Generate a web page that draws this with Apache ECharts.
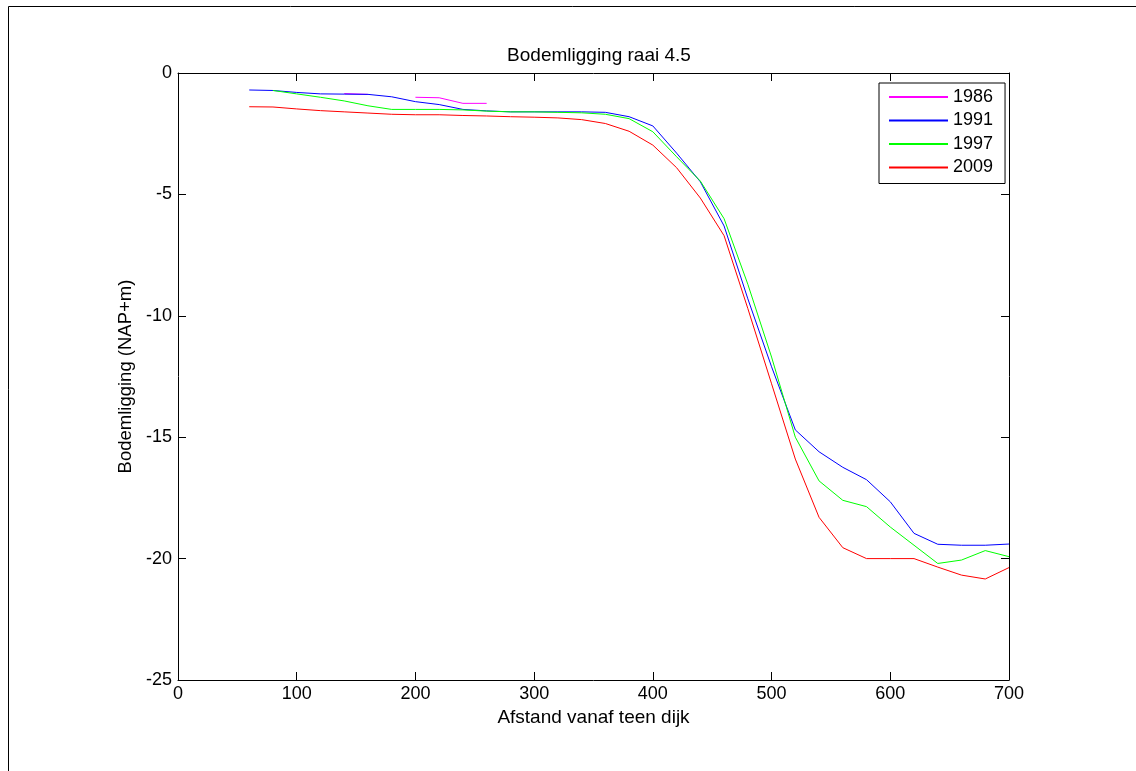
<!DOCTYPE html>
<html>
<head>
<meta charset="utf-8">
<script src="https://cdn.jsdelivr.net/npm/echarts@6/dist/echarts.min.js"></script>
<style>
  html, body { margin: 0; padding: 0; background: #fff; }
  #chart { width: 1136px; height: 771px; }
</style>
</head>
<body>
<div id="chart"></div>
<script>
// Distance from the dike toe (m), one sounding every 20 m
const afstand = [60, 80, 100, 120, 140, 160, 180, 200, 220, 240, 260, 280, 300, 320, 340, 360, 380,
  400, 420, 440, 460, 480, 500, 520, 540, 560, 580, 600, 620, 640, 660, 680, 700];

// Bed level (NAP+m) per survey year; null = not surveyed
const y1986 = [null, null, null, null, -0.85, -0.88, null, -1.0, -1.02, -1.25, -1.25, null, null, null, null, null, null,
  null, null, null, null, null, null, null, null, null, null, null, null, null, null, null, null];
const y1991 = [-0.7, -0.72, -0.8, -0.86, -0.87, -0.88, -0.98, -1.18, -1.3, -1.5, -1.56, -1.6, -1.6, -1.6, -1.6, -1.62, -1.8,
  -2.18, -3.3, -4.48, -6.3, -9.3, -12.1, -14.7, -15.6, -16.24, -16.75, -17.66, -18.96, -19.41, -19.45, -19.45, -19.4];
const y1997 = [null, -0.72, -0.86, -1.0, -1.15, -1.35, -1.5, -1.5, -1.5, -1.52, -1.57, -1.6, -1.6, -1.62, -1.64, -1.7, -1.88,
  -2.42, -3.45, -4.45, -6.0, -8.7, -11.7, -15.0, -16.8, -17.6, -17.86, -18.7, -19.45, -20.2, -20.06, -19.67, -19.92];
const y2009 = [-1.39, -1.4, -1.48, -1.55, -1.6, -1.65, -1.7, -1.72, -1.72, -1.75, -1.77, -1.8, -1.82, -1.85, -1.92, -2.08, -2.4,
  -2.97, -3.9, -5.15, -6.7, -9.7, -12.8, -15.9, -18.3, -19.55, -20.0, -20.0, -20.0, -20.35, -20.68, -20.84, -20.37];

const jaren = ['1986', '1991', '1997', '2009'];
const reeksen = [y1986, y1991, y1997, y2009];
const kleuren = ['#ff00ff', '#0000ff', '#00ff00', '#ff0000'];

const FONT = 'Liberation Sans, Arial, Helvetica, sans-serif';
const chart = echarts.init(document.getElementById('chart'), null, { renderer: 'canvas' });

const boxAxis = {
  axisLine: { show: true, onZero: false, lineStyle: { color: '#000', width: 1 } },
  axisTick: { show: true, inside: true, length: 8, lineStyle: { color: '#000', width: 1 } },
  splitLine: { show: false }
};

chart.setOption({
  animation: false,
  backgroundColor: '#fff',
  title: {
    text: 'Bodemligging raai 4.5',
    left: 594, top: 41, textAlign: 'center',
    textStyle: { fontFamily: FONT, fontSize: 19, fontWeight: 'normal', color: '#000' }
  },
  grid: { left: 178, top: 73, width: 831, height: 607, containLabel: false },
  legend: {
    data: jaren.map((j, i) => ({ name: j, icon: 'rect', itemStyle: { color: kleuren[i], borderWidth: 0 } })),
    orient: 'vertical',
    left: 879, top: 83,
    padding: [5, 12, 7, 10],
    itemWidth: 59, itemHeight: 2, itemGap: 5.5,
    borderColor: '#000', borderWidth: 1, backgroundColor: '#fff',
    selectedMode: false,
    textStyle: { fontFamily: FONT, fontSize: 18, color: '#000', padding: [0, 0, 0, 0] }
  },
  xAxis: [
    Object.assign({
      type: 'value', position: 'bottom', min: 0, max: 700, interval: 100,
      name: 'Afstand vanaf teen dijk', nameLocation: 'middle', nameGap: 27,
      nameTextStyle: { fontFamily: FONT, fontSize: 19, color: '#000' },
      axisLabel: { fontFamily: FONT, fontSize: 18, color: '#000', margin: 5 }
    }, boxAxis),
    Object.assign({
      type: 'value', position: 'top', min: 0, max: 700, interval: 100,
      axisLabel: { show: false }
    }, boxAxis)
  ],
  yAxis: [
    Object.assign({
      type: 'value', position: 'left', min: -25, max: 0, interval: 5,
      name: 'Bodemligging (NAP+m)', nameLocation: 'middle', nameGap: 42,
      nameTextStyle: { fontFamily: FONT, fontSize: 18.5, color: '#000' },
      axisLabel: { fontFamily: FONT, fontSize: 18, color: '#000', margin: 6 }
    }, boxAxis),
    Object.assign({
      type: 'value', position: 'right', min: -25, max: 0, interval: 5,
      axisLabel: { show: false }
    }, boxAxis)
  ],
  series: jaren.map((jaar, i) => ({
    name: jaar,
    type: 'line',
    xAxisIndex: 0, yAxisIndex: 0,
    data: afstand.map((x, k) => [x, reeksen[i][k]]),
    showSymbol: false, symbol: 'none',
    connectNulls: false,
    lineStyle: { color: kleuren[i], width: 1 },
    itemStyle: { color: kleuren[i] },
    emphasis: { disabled: true },
    z: 2 + i
  })),
  graphic: [{
    type: 'rect',
    shape: { x: 8.5, y: 6.5, width: 1200, height: 1000 },
    style: { fill: 'none', stroke: '#000', lineWidth: 1 },
    silent: true, z: 0
  }]
});
</script>
</body>
</html>
